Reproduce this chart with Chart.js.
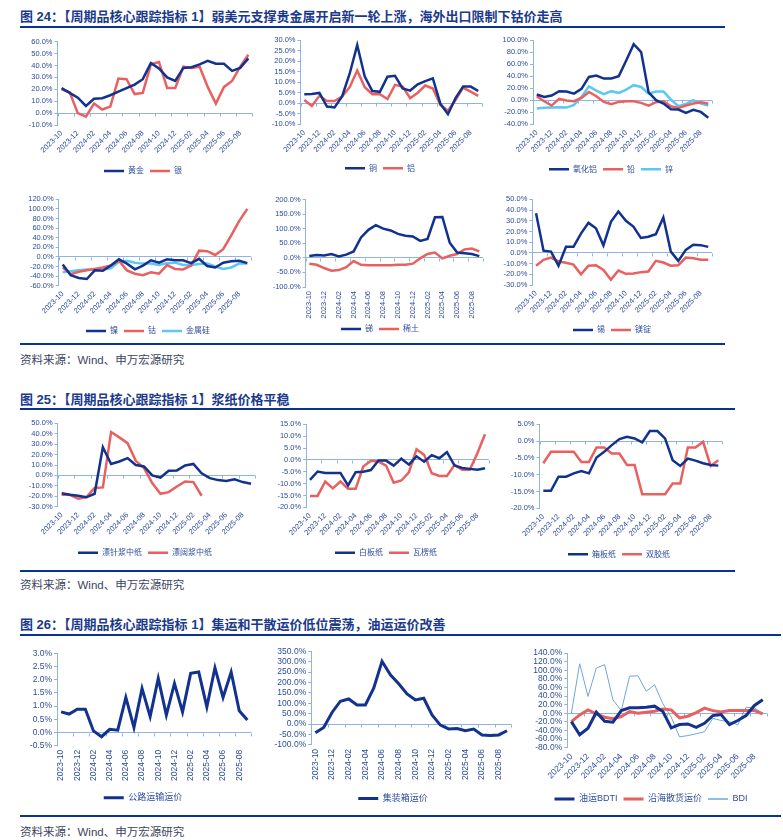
<!DOCTYPE html>
<html lang="zh-CN">
<head>
<meta charset="UTF-8">
<title>周期品核心跟踪指标</title>
<script src="https://cdn.jsdelivr.net/npm/chart.js"></script>
<style>
  body { margin: 0; width: 783px; height: 840px; position: relative; background: #fff; overflow: hidden;
         font-family: "Liberation Sans", "Noto Sans CJK SC", sans-serif; }
  .title { position: absolute; left: 20px; font-size: 13px; line-height: 16px; font-weight: bold; color: #1b3a8c; white-space: nowrap; }
  .rule { position: absolute; left: 20px; height: 2px; background: #0a3291; }
  .source { position: absolute; left: 20px; font-size: 11.5px; line-height: 16px; color: #3b4660; white-space: nowrap; }
  canvas { position: absolute; }
</style>
</head>
<body>

<div class="title" style="top:9px">图 24：【周期品核心跟踪指标 1】弱美元支撑贵金属开启新一轮上涨，海外出口限制下钴价走高</div>
<div class="rule" style="top:26px;width:705px"></div>
<div class="rule" style="top:343px;width:705px"></div>
<div class="source" style="top:352px">资料来源：Wind、申万宏源研究</div>

<div class="title" style="top:392px">图 25：【周期品核心跟踪指标 1】浆纸价格平稳</div>
<div class="rule" style="top:408px;width:715px"></div>
<div class="rule" style="top:570px;width:715px"></div>
<div class="source" style="top:577px">资料来源：Wind、申万宏源研究</div>

<div class="title" style="top:617px">图 26：【周期品核心跟踪指标 1】集运和干散运价低位震荡，油运运价改善</div>
<div class="rule" style="top:634px;width:761px"></div>
<div class="rule" style="top:815px;width:761px"></div>
<div class="source" style="top:824px">资料来源：Wind、申万宏源研究</div>

<script>
  // 月份（2023-10 ~ 2025-09），标签隔一个显示
  const months = ['2023-10', '2023-11', '2023-12', '2024-01', '2024-02', '2024-03', '2024-04', '2024-05',
    '2024-06', '2024-07', '2024-08', '2024-09', '2024-10', '2024-11', '2024-12', '2025-01',
    '2025-02', '2025-03', '2025-04', '2025-05', '2025-06', '2025-07', '2025-08', '2025-09'];

  // 图24 贵金属 / 有色
  const gold = [21, 17, 13, 6, 12, 12.5, 15, 18, 21, 24, 28.5, 42, 37.5, 30, 27, 38, 38.5, 41, 44, 41.5, 41.5, 35.5, 38, 46];
  const silver = [20, 17.5, 0, -3, 8, 3, 5.5, 29, 28.5, 16, 17, 41, 43, 21, 21, 39, 38, 39, 22, 8, 22, 27, 39, 49];
  const copper = [4.3, 4.4, 4.9, -1.6, -2, 3.2, 14, 27.6, 12.6, 5.8, 5.4, 12.6, 13, 7, 6, 9, 10.5, 11.8, -0.3, -5.2, 2.4, 7.9, 7.9, 5.8];
  const aluminum = [1.5, -1.3, 3.5, 1, 1, 3.2, 7.6, 15.5, 7.6, 4.3, 4.3, 2, 8.7, 7.9, 2.4, 5, 8.4, 7, -0.8, -3.6, 1.5, 7.4, 5.5, 3.5];
  const alumina = [9.4, 5.5, 7.7, 15, 14.4, 11, 18.8, 38.7, 41, 36, 36, 40, 66, 93, 80, 13, 0, -5.5, -15, -15.5, -21, -16, -19.4, -29];
  const lead = [6.6, -1.7, -8.9, 2.2, -0.6, -1.7, 3.9, 13.8, 6.6, -2.8, -6.6, -2.8, -1.7, -1.7, -4.4, -8.9, -3.3, -1.7, -10, -12.7, -8.9, -5.5, -3.3, -5.5];
  const zinc = [-13.8, -12.7, -12.2, -11.6, -12.2, -7.7, 5.5, 23, 16, 10, 15, 12, 17.7, 25, 22, 11, 14.4, 14.4, 1, -10, -6, 0, -5.5, -8.9];
  const nickel = [-16, -38, -44, -46, -28, -29, -18, -5, -14, -26, -18, -7, -12, -5, -7, -7, -13, -4, -19, -22, -12, -9, -8, -13];
  const cobalt = [-22, -36, -31, -28, -25, -22, -18, -8, -28, -35, -38, -32, -35, -17, -25, -26, -18, 13, 12, 4, 16, 45, 75, 100];
  const silicon = [-32, -30, -28, -26, -27, -26, -24, -10, -8, -12, -14, -14, -17, -13, -12, -17, -17, -15, -14, -20, -25, -22, -14, -14];
  const antimony = [6, 10, 8, 13, 5, 11, 22, 70, 96, 112, 100, 94, 82, 76, 73, 58, 65, 139, 140, 52, 18, 16, 13, 6];
  const rareEarth = [-20, -24, -35, -44, -42, -32, -11, -24, -25, -25, -25, -25, -24, -24, -20, -2, 13, 18, -2, 7, 13, 29, 32, 22];
  const tin = [37, 2, 1.2, -12, 5.6, 5.6, 18, 28, 23, 7, 29, 38.6, 30, 24.6, 14, 15, 17.4, 33, 1.2, -7.5, 2.8, 7.5, 7.2, 5.6];
  const magnesium = [-12, -6.5, -4.4, -8, -9.3, -11, -20, -12, -11.5, -16, -25, -16.5, -19.6, -19.3, -18, -17.4, -7.5, -9, -12, -11.5, -4.4, -5, -6.5, -6.5];

  // 图25 浆纸
  const softwoodPulp = [-17, -18.5, -19.5, -21, -17.6, 27, 11, 13.4, 16.6, 10, 8.6, 0, -2, 4.5, 4.8, 9.6, 11, 2, -2.6, -4.5, -5.4, -3.8, -6.4, -8];
  const hardwoodPulp = [-18.6, -18.6, -22.4, -20.8, -12, -11.5, 41.6, 36.5, 31, 14, 7, -7.4, -17.6, -16, -10.6, -5.8, -6.4, -19.5, null, null, null, null, null, null];
  const whiteboard = [-8.4, -4.9, -5.5, -5.5, -5.5, -10.8, -5.2, -5, -4.3, -0.3, -0.3, -2.4, 0.5, -2, 1.5, -0.8, 2, 0.7, 3.3, -2.4, -3.4, -3.8, -4.2, -3.5];
  const corrugated = [-15.2, -15.2, -9.1, -12, -9.1, -12.2, -12.2, -2.8, -0.4, -0.7, -2.4, -9.6, -8.7, -5.3, 4.5, 2.1, -5.6, -6.8, -6.8, -2.1, -4.2, -4.2, 2.8, 10.8];
  const containerboard = [-14.8, -14.8, -10.6, -10.6, -9.6, -8.9, -9.6, -4.9, -3.2, -1.2, 0.6, 1.3, 0.8, -0.4, 3, 3, 0.8, -5.7, -7.4, -5.2, -5.8, -6.6, -7.1, -7.3];
  const offsetPaper = [-6.6, -3.2, -3.2, -3.2, -3.2, -6.2, -6.2, -1.9, -1.9, -3.7, -3.7, -7.1, -7.1, -15.8, -15.8, -15.8, -15.8, -12.6, -12.6, -1.9, -1.9, -0.2, -7.4, -5.7];

  // 图26 运价
  const roadFreight = [0.78, 0.7, 0.88, 0.88, 0.06, -0.16, 0.12, 0.09, 1.33, 0.19, 1.67, 0.6, 2.05, 0.66, 1.86, 0.78, 2.24, 2.29, 0.97, 2.45, 1.33, 2.29, 0.82, 0.47];
  const containerFreight = [-42, -16, 56, 110, 121, 92, 92, 173, 302, 237, 194, 145, 116, 124, 44, -5, -23, -21, -32, -24, -52, -55, -52, -32];
  const bdti = [-19.5, -50, -35, 2.3, -18.7, -21, 6, 12.5, 12.5, 14, 16.4, 4, -34, -26.5, -25, -32.8, -23.4, -5.5, -3, -26.5, -17, -5.5, 18, 31];
  const coastalBulk = [-19.5, -4, 7.8, -1.5, -9.4, -13, -7.8, 4, 0, 2.3, 4.7, 10, 7.8, -11, -7, 1.5, 11.7, 6, 3, 6, 6, 6, 6, -1.5];
  const bdi = [0, 115, 39, 105, 113, 31, 6, 86, 87, 51, 66, 22, -9, -55, -52, -48, -43, -12, -17, -19.5, -27, 14, 12, 0];

  const NAVY = '#12328e', RED = '#e8605f', CYAN = '#5cc8f2', THIN = '#6ea6dd';
  const AXIS = '#8fb4e3', TEXT = '#2c4c9c';
  const FAMILY = '"Liberation Sans", "Noto Sans CJK SC", sans-serif';

  // 零轴上的刻度线
  const zeroTicks = {
    id: 'zeroTicks',
    beforeDatasetsDraw(chart) {
      const xs = chart.scales.x, ys = chart.scales.y, c = chart.ctx;
      const y0 = Math.round(ys.getPixelForValue(0)) + 0.5, n = chart.data.labels.length;
      c.save();
      c.strokeStyle = AXIS;
      c.lineWidth = 1;
      c.beginPath();
      for (let k = 0; k <= n; k += 2) {
        const px = Math.round(xs.left + k * xs.width / n) + 0.5;
        c.moveTo(px, y0);
        c.lineTo(px, y0 + 3);
      }
      c.stroke();
      c.restore();
    }
  };

  // 图例居中位置与原图一致
  const legendSpan = {
    id: 'legendSpan',
    afterLayout(chart, args, opts) {
      const lg = chart.legend;
      if (!lg) return;
      lg.left = opts.left;
      lg.right = opts.right;
      lg.width = opts.right - opts.left;
    }
  };

  function makeChart(p) {
    const lp = 6, lf = p.lfs;
    const spanRight = p.r, spanLeft = 2 * p.lx - spanRight;
    const cl = Math.floor(Math.min(spanLeft, p.l - 45));
    const ct = Math.floor(p.t - 8);
    const legendTop = p.ly - lp - lf / 2;
    const bottom = legendTop + lf + lp + 10;
    const w = Math.ceil(spanRight + 2 - cl), h = Math.ceil(bottom - ct);

    const cv = document.createElement('canvas');
    cv.width = w; cv.height = h;
    cv.style.left = cl + 'px'; cv.style.top = ct + 'px';
    cv.style.width = w + 'px'; cv.style.height = h + 'px';
    document.body.appendChild(cv);

    new Chart(cv, {
      type: 'line',
      data: {
        labels: months,
        datasets: p.series.map(s => ({
          label: s.label, data: s.data, borderColor: s.color, backgroundColor: s.color,
          borderWidth: s.width || 2.5, pointRadius: 0, tension: 0, fill: false
        }))
      },
      options: {
        responsive: false,
        animation: false,
        layout: { padding: { left: 0, right: cl + w - spanRight, top: p.t - ct, bottom: h - (bottom - ct) } },
        plugins: {
          legend: {
            position: 'bottom',
            // 高度为0的图例框，只剩描边 → 线段样式
            labels: { boxWidth: 20, boxHeight: 0, padding: lp, color: TEXT, font: { size: lf, family: FAMILY } }
          },
          legendSpan: { left: spanLeft - cl, right: spanRight - cl },
          tooltip: { enabled: false }
        },
        scales: {
          x: {
            offset: true,
            grid: { display: false, drawTicks: false },
            border: { display: false },
            ticks: {
              autoSkip: false, minRotation: p.rot, maxRotation: p.rot, padding: 4,
              color: TEXT, font: { size: p.fs, family: FAMILY },
              callback: (v, i) => i % 2 === 0 ? months[i] : ''
            },
            afterFit: s => { s.height = legendTop - p.b; s.paddingLeft = 0; s.paddingRight = 0; }
          },
          y: {
            min: p.min, max: p.max,
            ticks: {
              stepSize: p.step, autoSkip: false, padding: 2, color: TEXT, font: { size: p.fs, family: FAMILY },
              callback: v => v.toFixed(1) + '%'
            },
            grid: {
              color: ctx => Math.abs(ctx.tick.value) < 1e-9 ? AXIS : 'rgba(0,0,0,0)',
              tickColor: AXIS, tickLength: 3
            },
            border: { color: AXIS },
            afterFit: s => { s.width = p.l - cl; }
          }
        }
      },
      plugins: [zeroTicks, legendSpan]
    });
  }

  const panels = [
    { l: 57.5, r: 252.4, t: 41.7, b: 125, lx: 143, ly: 171, rot: 45, min: -10, max: 60, step: 10, fs: 7.5, lfs: 8,
      series: [{ label: '黄金', data: gold, color: NAVY }, { label: '银', data: silver, color: RED }] },
    { l: 300.5, r: 482, t: 40, b: 124.3, lx: 380, ly: 168.3, rot: 45, min: -10, max: 30, step: 5, fs: 7.5, lfs: 8,
      series: [{ label: '铜', data: copper, color: NAVY }, { label: '铝', data: aluminum, color: RED }] },
    { l: 533, r: 712, t: 40, b: 124.3, lx: 611, ly: 169.3, rot: 45, min: -40, max: 100, step: 20, fs: 7.5, lfs: 8,
      series: [{ label: '氧化铝', data: alumina, color: NAVY }, { label: '铅', data: lead, color: RED }, { label: '锌', data: zinc, color: CYAN }] },
    { l: 58.7, r: 251.3, t: 199.3, b: 285.7, lx: 148, ly: 331, rot: 45, min: -60, max: 120, step: 20, fs: 7.5, lfs: 8,
      series: [{ label: '镍', data: nickel, color: NAVY }, { label: '钴', data: cobalt, color: RED }, { label: '金属硅', data: silicon, color: CYAN }] },
    { l: 305.6, r: 483, t: 199.5, b: 287, lx: 380, ly: 329, rot: 90, min: -100, max: 200, step: 50, fs: 7.5, lfs: 8,
      series: [{ label: '锑', data: antimony, color: NAVY }, { label: '稀土', data: rareEarth, color: RED }] },
    { l: 532.3, r: 712, t: 199.3, b: 285, lx: 612, ly: 330, rot: 45, min: -30, max: 50, step: 10, fs: 7.5, lfs: 8,
      series: [{ label: '锡', data: tin, color: NAVY }, { label: '镁锭', data: magnesium, color: RED }] },
    { l: 57.6, r: 255.1, t: 423.3, b: 506.7, lx: 145, ly: 552.7, rot: 45, min: -30, max: 50, step: 10, fs: 7.5, lfs: 8,
      series: [{ label: '漂针浆中纸', data: softwoodPulp, color: NAVY }, { label: '漂阔浆中纸', data: hardwoodPulp, color: RED }] },
    { l: 306.2, r: 488.8, t: 424.3, b: 507.3, lx: 386, ly: 552.7, rot: 45, min: -20, max: 15, step: 5, fs: 7.5, lfs: 8,
      series: [{ label: '白板纸', data: whiteboard, color: NAVY }, { label: '瓦楞纸', data: corrugated, color: RED }] },
    { l: 539.5, r: 722.1, t: 424.3, b: 508.3, lx: 619, ly: 554.3, rot: 45, min: -20, max: 5, step: 5, fs: 7.5, lfs: 8,
      series: [{ label: '箱板纸', data: containerboard, color: NAVY }, { label: '双胶纸', data: offsetPaper, color: RED }] },
    { l: 57, r: 251.4, t: 653.3, b: 745.7, lx: 143, ly: 797.7, rot: 90, min: -0.5, max: 3, step: 0.5, fs: 8.5, lfs: 9,
      series: [{ label: '公路运输运价', data: roadFreight, color: NAVY, width: 3 }] },
    { l: 311.2, r: 511.2, t: 651.3, b: 744.9, lx: 393, ly: 798.6, rot: 90, min: -100, max: 350, step: 50, fs: 8.5, lfs: 9,
      series: [{ label: '集装箱运价', data: containerFreight, color: NAVY, width: 3 }] },
    { l: 567.2, r: 766.9, t: 653, b: 747.6, lx: 651, ly: 799, rot: 45, min: -80, max: 140, step: 20, fs: 8.5, lfs: 9,
      series: [{ label: '油运BDTI', data: bdti, color: NAVY, width: 3 }, { label: '沿海散货运价', data: coastalBulk, color: RED, width: 3 },
               { label: 'BDI', data: bdi, color: THIN, width: 1 }] }
  ];

  panels.forEach(makeChart);
</script>

</body>
</html>
